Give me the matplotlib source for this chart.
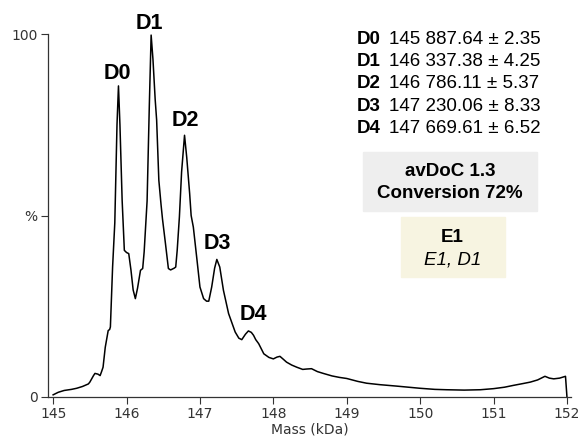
import matplotlib.pyplot as plt
from matplotlib.patches import Rectangle

# deconvoluted spectrum
mass = [145.00, 145.07, 145.15, 145.25, 145.32, 145.40, 145.48, 145.50, 145.55, 145.57,
        145.61, 145.64, 145.66, 145.68, 145.71, 145.75, 145.77, 145.78, 145.81, 145.84,
        145.85, 145.87, 145.89, 145.91, 145.94, 145.97, 146.00, 146.03, 146.06, 146.09,
        146.12, 146.15, 146.19, 146.22, 146.24, 146.26, 146.28, 146.31, 146.335, 146.36,
        146.39, 146.41, 146.44, 146.47, 146.49, 146.53, 146.57, 146.60, 146.62, 146.65,
        146.67, 146.69, 146.72, 146.75, 146.79, 146.82, 146.86, 146.88, 146.91, 146.96,
        147.00, 147.05, 147.09, 147.12, 147.16, 147.20, 147.23, 147.27, 147.32, 147.39,
        147.48, 147.53, 147.57, 147.62, 147.66, 147.70, 147.73, 147.76, 147.80, 147.87,
        147.94, 148.00, 148.05, 148.09, 148.13, 148.18, 148.25, 148.32, 148.40, 148.45,
        148.52, 148.60, 148.68, 148.80, 148.90, 149.00, 149.15, 149.27, 149.45, 149.68,
        150.00, 150.20, 150.36, 150.60, 150.82, 151.00, 151.15, 151.27, 151.40, 151.50,
        151.60, 151.70, 151.76, 151.82, 151.90, 151.98, 152.00]
intensity = [0.6, 1.3, 1.8, 2.1, 2.4, 2.9, 3.6, 4.1, 5.9, 6.5,
             6.3, 5.9, 7.0, 8.2, 13.7, 18.3, 18.6, 19.3, 35.8, 48.0,
             57.0, 75.0, 85.7, 75.0, 54.2, 40.4, 39.8, 39.5, 35.0, 29.5,
             27.1, 30.0, 34.9, 35.4, 40.0, 47.0, 54.0, 80.0, 99.7, 93.0,
             82.0, 76.3, 59.7, 53.0, 49.0, 42.3, 35.4, 35.0, 35.2, 35.5,
             35.8, 40.4, 49.6, 62.0, 72.1, 66.0, 56.0, 50.0, 46.8, 37.7,
             30.3, 27.1, 26.4, 26.4, 30.3, 35.5, 37.9, 35.8, 29.4, 23.0,
             17.9, 16.2, 15.8, 17.3, 18.2, 17.8, 17.0, 15.8, 14.7, 11.9,
             10.9, 10.5, 11.0, 11.2, 10.5, 9.6, 8.8, 8.2, 7.6, 7.7,
             7.8, 7.0, 6.5, 5.8, 5.4, 5.1, 4.3, 3.8, 3.4, 3.0,
             2.4, 2.1, 2.0, 1.9, 2.0, 2.3, 2.7, 3.2, 3.7, 4.1,
             4.7, 5.7, 5.2, 5.0, 5.2, 5.7, 0.0]

peak_names = ['D0', 'D1', 'D2', 'D3', 'D4']
peak_x = [145.87, 146.31, 146.80, 147.24, 147.73]
peak_y = [89.0, 102.9, 76.1, 42.4, 22.7]
peak_mass = ['145 887.64 ± 2.35', '146 337.38 ± 4.25', '146 786.11 ± 5.37',
             '147 230.06 ± 8.33', '147 669.61 ± 6.52']

x_ticks = [145, 146, 147, 148, 149, 150, 151, 152]
y_ticks = [0, 50, 100]
y_labels = ['0', '%', '100']

W, H = 581, 438
fig = plt.figure(figsize=(W / 100, H / 100), dpi=100)
ax = fig.add_axes([48 / W, 1 - 397 / H, (571 - 48) / W, (397 - 34) / H])

ax.plot(mass, intensity, color='black', lw=1.1)
ax.set_xlim(144.93, 152.055)
ax.set_ylim(0, 100)
ax.set_xticks(x_ticks)
ax.set_yticks(y_ticks)
ax.set_yticklabels(y_labels)
ax.set_xlabel('Mass (kDa)', fontsize=10, color='#333333', labelpad=1)
ax.tick_params(labelsize=10, colors='#333333', length=5, width=0.8, pad=2.5)
for s in ['top', 'right']:
    ax.spines[s].set_visible(False)
for s in ['left', 'bottom']:
    ax.spines[s].set_color('#333333')
    ax.spines[s].set_linewidth(0.9)

bold = dict(family='Liberation Sans', fontweight='bold')
for name, px, py in zip(peak_names, peak_x, peak_y):
    ax.text(px, py, name, ha='center', va='center', fontsize=15.5, clip_on=False, **bold)

# mass list, top right
for i, (name, val) in enumerate(zip(peak_names, peak_mass)):
    yy = 1 - (39.3 + 22.3 * i) / H
    fig.text(357 / W, yy, name, ha='left', va='center', fontsize=13.5, **bold)
    fig.text(389 / W, yy, val, ha='left', va='center', fontsize=13.5, family='Liberation Sans')

fig.patches.append(Rectangle((363 / W, 1 - 211 / H), 174 / W, 59 / H,
                             transform=fig.transFigure, color='#eeeeee', zorder=0))
fig.text(450 / W, 1 - 171.5 / H, 'avDoC 1.3', ha='center', va='center', fontsize=13.5, **bold)
fig.text(450 / W, 1 - 193.5 / H, 'Conversion 72%', ha='center', va='center', fontsize=13.5, **bold)

fig.patches.append(Rectangle((401 / W, 1 - 277 / H), 103.5 / W, 60 / H,
                             transform=fig.transFigure, color='#f7f4e1', zorder=0))
fig.text(452.5 / W, 1 - 237 / H, 'E1', ha='center', va='center', fontsize=13.5, **bold)
fig.text(452.5 / W, 1 - 260 / H, 'E1, D1', ha='center', va='center', fontsize=13.5,
         family='Liberation Sans', style='italic')

fig.savefig('out.png', dpi=100)
